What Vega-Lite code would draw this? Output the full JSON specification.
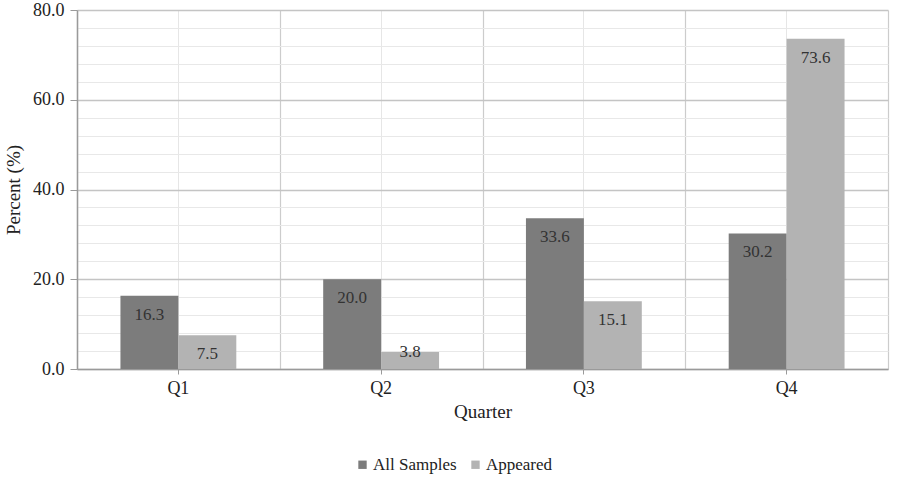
{
  "$schema": "https://vega.github.io/schema/vega-lite/v6.json",
  "autosize": "none",
  "width": 811,
  "height": 359,
  "padding": {"left": 77, "top": 10, "right": 12, "bottom": 112},
  "background": "white",
  "config": {
    "font": "Liberation Serif, Times New Roman, serif",
    "view": {"stroke": null},
    "text": {"font": "Liberation Serif, Times New Roman, serif"},
    "style": {"guide-label": {"font": "Liberation Serif, Times New Roman, serif"}, "guide-title": {"font": "Liberation Serif, Times New Roman, serif"}},
    "axis": {"labelFont": "Liberation Serif, Times New Roman, serif", "titleFont": "Liberation Serif, Times New Roman, serif", "labelFontSize": 18, "titleFontSize": 19, "titleFontWeight": "normal", "labelColor": "#222", "titleColor": "#222"},
    "legend": {"labelFont": "Liberation Serif, Times New Roman, serif", "labelFontSize": 17, "labelColor": "#222"}
  },
  "data": {
    "values": [
      {"quarter": "Q1", "series": "All Samples", "percent": 16.3},
      {"quarter": "Q1", "series": "Appeared", "percent": 7.5},
      {"quarter": "Q2", "series": "All Samples", "percent": 20.0},
      {"quarter": "Q2", "series": "Appeared", "percent": 3.8},
      {"quarter": "Q3", "series": "All Samples", "percent": 33.6},
      {"quarter": "Q3", "series": "Appeared", "percent": 15.1},
      {"quarter": "Q4", "series": "All Samples", "percent": 30.2},
      {"quarter": "Q4", "series": "Appeared", "percent": 73.6}
    ]
  },
  "encoding": {
    "xOffset": {"field": "series", "type": "nominal", "sort": ["All Samples", "Appeared"], "scale": {"paddingOuter": 0.75, "paddingInner": 0}},
    "y": {
      "field": "percent", "type": "quantitative",
      "scale": {"domain": [0, 80], "nice": false},
      "axis": {
        "title": "Percent (%)",
        "values": [0, 4, 8, 12, 16, 20, 24, 28, 32, 36, 40, 44, 48, 52, 56, 60, 64, 68, 72, 76, 80],
        "labelExpr": "datum.value % 20 === 0 ? format(datum.value, '.1f') : ''",
        "labelOverlap": false,
        "grid": true,
        "gridColor": {"condition": {"test": "datum.value % 20 === 0", "value": "#c4c4c4"}, "value": "#e8e8e8"},
        "gridWidth": {"condition": {"test": "datum.value % 20 === 0", "value": 1.5}, "value": 1},
        "tickOpacity": {"condition": {"test": "datum.value % 20 === 0", "value": 1}, "value": 0},
        "tickColor": "#9a9a9a", "tickSize": 7,
        "domainColor": "#9a9a9a", "domainWidth": 1.5,
        "labelPadding": 6, "titlePadding": 9
      }
    }
  },
  "layer": [
    {
      "mark": {"type": "bar"},
      "encoding": {
        "x": {
          "field": "quarter", "type": "nominal",
          "scale": {"paddingInner": 0, "paddingOuter": 0},
          "axis": {
            "title": "Quarter", "labelAngle": 0, "tickBand": "center",
            "grid": true, "gridColor": "#e6e6e6", "gridWidth": 1,
            "domainColor": "#9a9a9a", "domainWidth": 1.5, "tickColor": "#9a9a9a", "tickSize": 5,
            "labelPadding": 5, "titlePadding": 5
          }
        },
        "color": {
          "field": "series", "type": "nominal",
          "scale": {"domain": ["All Samples", "Appeared"], "range": ["#7c7c7c", "#b3b3b3"]},
          "legend": {
            "title": null, "orient": "none", "direction": "horizontal",
            "legendX": 277, "legendY": 446,
            "labelFont": "Liberation Serif, Times New Roman, serif", "labelFontSize": 17,
            "symbolType": "square", "symbolSize": 70, "symbolStrokeWidth": 0,
            "columnPadding": 10, "labelOffset": 2
          }
        }
      }
    },
    {
      "mark": {"type": "text", "baseline": "middle", "dy": {"expr": "datum.percent < 5 ? 0 : 19"}, "fontSize": 17, "color": "#333", "font": "Liberation Serif, Times New Roman, serif"},
      "encoding": {
        "x": {
          "field": "quarter", "type": "nominal",
          "axis": {
            "orient": "top", "tickBand": "extent", "title": null,
            "labels": false, "ticks": false, "domain": false,
            "grid": true, "gridColor": "#cccccc", "gridWidth": 1.2
          }
        },
        "text": {"field": "percent", "type": "quantitative", "format": ".1f"}
      }
    }
  ],
  "resolve": {"axis": {"x": "independent"}}
}
